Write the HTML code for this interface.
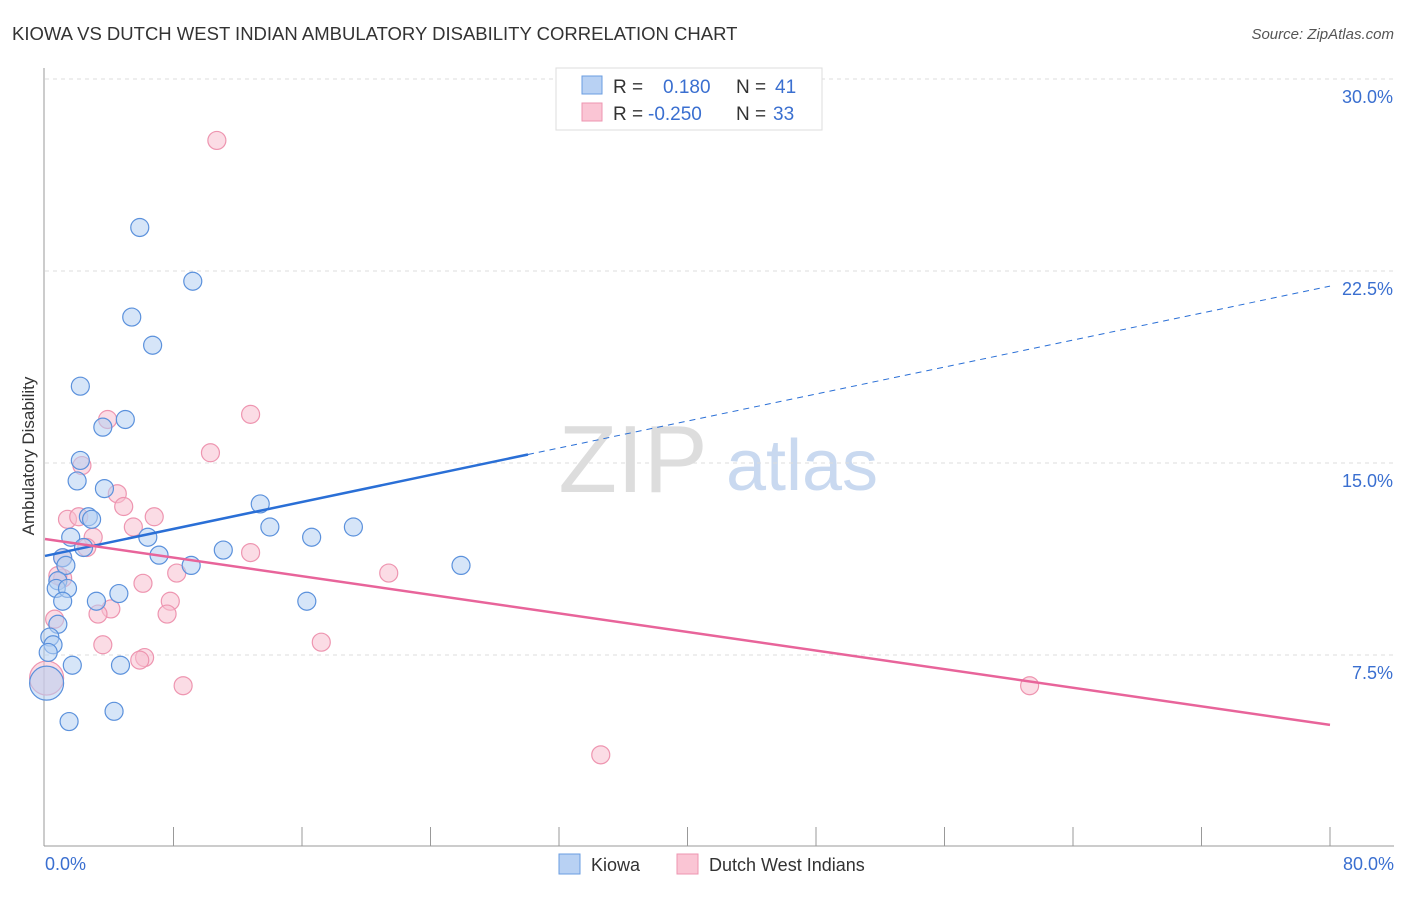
<!DOCTYPE html>
<html><head><meta charset="utf-8"><style>
body{margin:0;background:#fff;font-family:"Liberation Sans",sans-serif}
svg text{font-family:"Liberation Sans",sans-serif}
</style></head><body>
<svg id="chart" width="1406" height="892">
<text x="12" y="40" font-size="18.5" fill="#333">KIOWA VS DUTCH WEST INDIAN AMBULATORY DISABILITY CORRELATION CHART</text>
<text x="1394" y="39" font-size="15" fill="#555" font-style="italic" text-anchor="end">Source: ZipAtlas.com</text>
<text x="633" y="492" font-size="96" fill="#ddd" font-family="Liberation Serif" text-anchor="middle">ZIP</text>
<text x="802" y="490" font-size="72" fill="#c9d9f0" text-anchor="middle">atlas</text>
<g id="grid"></g><g id="axes"></g><g id="marks"></g><g id="lines"></g>
<text transform="translate(34,456) rotate(-90)" font-size="17" fill="#333" text-anchor="middle">Ambulatory Disability</text>
<g>
<rect x="556" y="68" width="266" height="62" fill="#fff" stroke="#ddd"/>
<rect x="582" y="76" width="20" height="18" fill="#b8d1f3" stroke="#6a9de0"/>
<rect x="582" y="103" width="20" height="18" fill="#fac5d4" stroke="#ee95b0"/>
<text x="613" y="93" font-size="19" fill="#333">R =</text><text x="663" y="93" font-size="19" fill="#3a6fd0">0.180</text>
<text x="736" y="93" font-size="19" fill="#333">N =</text><text x="775" y="93" font-size="19" fill="#3a6fd0">41</text>
<text x="613" y="120" font-size="19" fill="#333">R =</text><text x="648" y="120" font-size="19" fill="#3a6fd0">-0.250</text>
<text x="736" y="120" font-size="19" fill="#333">N =</text><text x="773" y="120" font-size="19" fill="#3a6fd0">33</text>
</g>
<g>
<rect x="559" y="854" width="21" height="20" fill="#b8d1f3" stroke="#6a9de0"/>
<text x="591" y="871" font-size="18" fill="#333">Kiowa</text>
<rect x="677" y="854" width="21" height="20" fill="#fac5d4" stroke="#ee95b0"/>
<text x="709" y="871" font-size="18" fill="#333">Dutch West Indians</text>
</g>
</svg>
<script>
const yTicks=[7.5,15.0,22.5,30.0];
const xTickLabels=["0.0%","80.0%"];
const kiowaX=[5.9,9.2,5.4,6.7,2.2,5.0,3.6,2.2,2.0,3.7,2.7,2.9,13.4,1.6,6.4,14.0,16.6,19.2,25.9,11.1,7.1,9.1,2.4,1.1,1.3,0.8,0.7,1.4,1.1,3.2,4.6,0.8,0.3,0.5,0.2,1.7,4.7,16.3,1.5,4.3,0.1];
const kiowaY=[24.2,22.1,20.7,19.6,18.0,16.7,16.4,15.1,14.3,14.0,12.9,12.8,13.4,12.1,12.1,12.5,12.1,12.5,11.0,11.6,11.4,11.0,11.7,11.3,11.0,10.4,10.1,10.1,9.6,9.6,9.9,8.7,8.2,7.9,7.6,7.1,7.1,9.6,4.9,5.3,6.4];
const dutchX=[10.7,12.8,3.9,2.3,10.3,4.5,4.9,1.4,2.1,6.8,5.5,3.0,1.1,2.6,1.1,0.8,6.1,8.2,7.8,4.1,3.3,7.6,0.6,21.4,17.2,3.6,6.2,5.9,8.6,61.3,34.6,0.1,12.8];
const dutchY=[27.6,16.9,16.7,14.9,15.4,13.8,13.3,12.8,12.9,12.9,12.5,12.1,11.3,11.7,10.5,10.6,10.3,10.7,9.6,9.3,9.1,9.1,8.9,10.7,8.0,7.9,7.4,7.3,6.3,6.3,3.6,6.6,11.5];
const kiowaLine=[11.37,21.91], kiowaSolidEnd=30.07;
const dutchLine=[12.03,4.77];
const NS="http://www.w3.org/2000/svg";
const X0=45,X1=1330,Y0=847,Y1=79;
const sx=v=>X0+(X1-X0)*v/80, sy=v=>Y0-(Y0-Y1)*v/30;
function mk(t,a,p){const e=document.createElementNS(NS,t);for(const k in a)e.setAttribute(k,a[k]);document.getElementById(p).appendChild(e);return e;}
for(const t of yTicks){
 const g=mk('line',{x1:45,x2:1394,y1:sy(t),y2:sy(t),stroke:'#ddd','stroke-dasharray':'4,4'},'grid');
 
 
 const l=mk('text',{x:1393,y:sy(t)+24,'font-size':18,fill:'#3a6fd0','text-anchor':'end'},'axes');
 l.textContent=t.toFixed(1)+'%';
 
 
}
let a=mk('line',{x1:44,x2:44,y1:68,y2:846,stroke:'#999'},'axes');


a=mk('line',{x1:44,x2:1394,y1:846,y2:846,stroke:'#999'},'axes');


for(let i=1;i<=10;i++){const x=sx(i*8);const t=mk('line',{x1:x,x2:x,y1:827,y2:846,stroke:'#999'},'axes');
 
 }
let tl=mk('text',{x:45,y:870,'font-size':18,fill:'#3a6fd0'},'axes');tl.textContent=xTickLabels[0];


tl=mk('text',{x:1394,y:870,'font-size':18,fill:'#3a6fd0','text-anchor':'end'},'axes');tl.textContent=xTickLabels[1];


function pts(xs,ys,fill,stroke,name){
 xs.forEach((v,i)=>{const big=v<0.2;const c=mk('circle',{cx:sx(v),cy:sy(ys[i]),r:big?17:9,fill:fill,'fill-opacity':0.55,stroke:stroke,'stroke-width':1.2},'marks');
 
 });
}
pts(dutchX,dutchY,'#f8bfd0','#ee95b0','dutch-point');
pts(kiowaX,kiowaY,'#b5cff2','#5b91dc','kiowa-point');
const kf=v=>kiowaLine[0]+(kiowaLine[1]-kiowaLine[0])*v/80;
let ln=mk('line',{x1:sx(0),y1:sy(kf(0)),x2:sx(kiowaSolidEnd),y2:sy(kf(kiowaSolidEnd)),stroke:'#2a6fd6','stroke-width':2.5},'lines');


ln=mk('line',{x1:sx(kiowaSolidEnd),y1:sy(kf(kiowaSolidEnd)),x2:sx(80),y2:sy(kf(80)),stroke:'#2a6fd6','stroke-width':1,'stroke-dasharray':'6,5'},'lines');


ln=mk('line',{x1:sx(0),y1:sy(dutchLine[0]),x2:sx(80),y2:sy(dutchLine[1]),stroke:'#e8649a','stroke-width':2.5},'lines');


</script>
</body></html>
